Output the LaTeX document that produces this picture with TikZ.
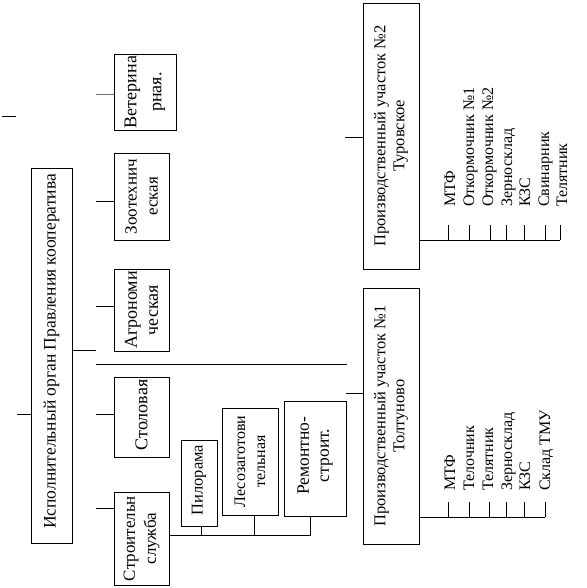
\documentclass[tikz,border=0pt]{standalone}
\usepackage{fontspec}
\setmainfont{Liberation Serif}
\begin{document}
\begin{tikzpicture}[x=1pt,y=-1pt,
  box/.style={draw, line width=0.9pt, inner sep=0pt},
  txt/.style={rotate=90, align=center, inner sep=0pt, font=\fontsize{18}{21}\selectfont},
  ptxt/.style={rotate=90, align=center, inner sep=0pt, font=\fontsize{16.5}{19}\selectfont},
  lbl/.style={rotate=90, anchor=base west, inner sep=0pt, font=\fontsize{16}{19}\selectfont},
  ln/.style={line width=0.9pt}]
\useasboundingbox (0,0) rectangle (586,588);

% boxes
\node[box, minimum width=41, minimum height=375] (main) at (51.5,355.5) {};
\node[txt, font=\fontsize{17.5}{21}\selectfont] (maint) at ([yshift=4]main.center) {Исполнительный орган Правления кооператива};

\node[box, minimum width=62, minimum height=76] (vet) at (145,92) {};
\node[txt, font=\fontsize{18}{25}\selectfont] (vett) at (vet) {Ветерина\\рная.};

\node[box, minimum width=55, minimum height=87] (zoo) at (141.5,196.5) {};
\node[txt, font=\fontsize{17}{21}\selectfont] (zoot) at (zoo) {Зоотехнич\\еская};

\node[box, minimum width=55, minimum height=82] (agro) at (141.5,310) {};
\node[txt] (agrot) at (agro) {Агрономи\\ческая};

\node[box, minimum width=55, minimum height=80] (stol) at (141.5,417) {};
\node[txt] (stolt) at ([yshift=2]stol.center) {Столовая};

\node[box, minimum width=55, minimum height=93] (stroi) at (141.5,538.5) {};
\node[txt, font=\fontsize{17}{21}\selectfont] (stroit) at (stroi) {Строительн\\служба};

\node[box, minimum width=36, minimum height=86] (pil) at (199,483) {};
\node[txt, font=\fontsize{16.5}{20}\selectfont] (pilt) at ([yshift=3]pil.center) {Пилорама};

\node[box, minimum width=56, minimum height=107] (les) at (250,461.5) {};
\node[txt, font=\fontsize{16}{20}\selectfont] (lest) at (les) {Лесозаготови\\тельная};

\node[box, minimum width=62, minimum height=115] (rem) at (315,458.5) {};
\node[txt, font=\fontsize{17.5}{20}\selectfont] (remt) at ([yshift=3]rem.center) {Ремонтно-\\строит.};

\node[box, minimum width=56, minimum height=256] (prod1) at (391,416) {};
\node[ptxt] (prod1t) at (prod1) {Производственный участок №1\\Толтуново};

\node[box, minimum width=56, minimum height=266] (prod2) at (391,136) {};
\node[ptxt] (prod2t) at (prod2) {Производственный участок №2\\Туровское};

% free stubs and connectors
\coordinate (c0a) at (2,116); \coordinate (c0b) at (16,116);
\draw[ln] (c0a) -- (c0b);
\coordinate (sv) at (96,94);  \draw[ln, black!55] (sv) -- (sv -| vet.west);
\coordinate (sz) at (96,201); \draw[ln] (sz) -- (sz -| zoo.west);
\coordinate (sa) at (96,306); \draw[ln] (sa) -- (sa -| agro.west);
\coordinate (sm) at (96,350); \draw[ln] (sm -| main.east) -- (sm);
\coordinate (la) at (96,364); \coordinate (lb) at (347,364);
\draw[ln] (la) -- (lb);
\coordinate (sl) at (17,414); \draw[ln] (sl) -- (sl -| main.west);
\coordinate (ss) at (96,414); \draw[ln] (ss) -- (ss -| stol.west);
\coordinate (st) at (96,508); \draw[ln] (st) -- (st -| stroi.west);

\coordinate (bus) at (310,535);
\coordinate (bp) at (201,535);
\coordinate (bl) at (254,535);
\draw[ln] (bus -| stroi.east) -- (bus) -- (bus |- rem.south);
\draw[ln] (bp) -- (bp |- pil.south);
\draw[ln] (bl) -- (bl |- les.south);

\coordinate (sr) at (346,393); \draw[ln] (sr) -- (sr -| prod1.west);
\coordinate (sp) at (345,137); \draw[ln] (sp) -- (sp -| prod2.west);

% production site 1 bus
\coordinate (b1) at (545,517);
\draw[ln] (b1 -| prod1.east) -- (b1);
\foreach \x in {448,469,489,506,524,545} \draw[ln] (\x,517) -- (\x,502);
% production site 2 bus
\coordinate (b2) at (560,240);
\draw[ln] (b2 -| prod2.east) -- (b2);
\foreach \x in {448,469,490,506,524,545,560} \draw[ln] (\x,240) -- (\x,225);

% labels site 1
\node[lbl] (p1a) at (455,491) {МТФ};
\node[lbl] (p1b) at (474,491) {Телочник};
\node[lbl] (p1c) at (493,491) {Телятник};
\node[lbl] (p1d) at (512,491) {Зерносклад};
\node[lbl] (p1e) at (530,491) {КЗС};
\node[lbl] (p1f) at (550,491) {Склад ТМУ};
% labels site 2
\node[lbl] (p2a) at (455,207) {МТФ};
\node[lbl] (p2b) at (474,207) {Откормочник №1};
\node[lbl] (p2c) at (493,207) {Откормочник №2};
\node[lbl] (p2d) at (512,207) {Зерносклад};
\node[lbl] (p2e) at (530,207) {КЗС};
\node[lbl] (p2f) at (549,207) {Свинарник};
\node[lbl] (p2g) at (567,207) {Телятник};
\end{tikzpicture}
\end{document}
